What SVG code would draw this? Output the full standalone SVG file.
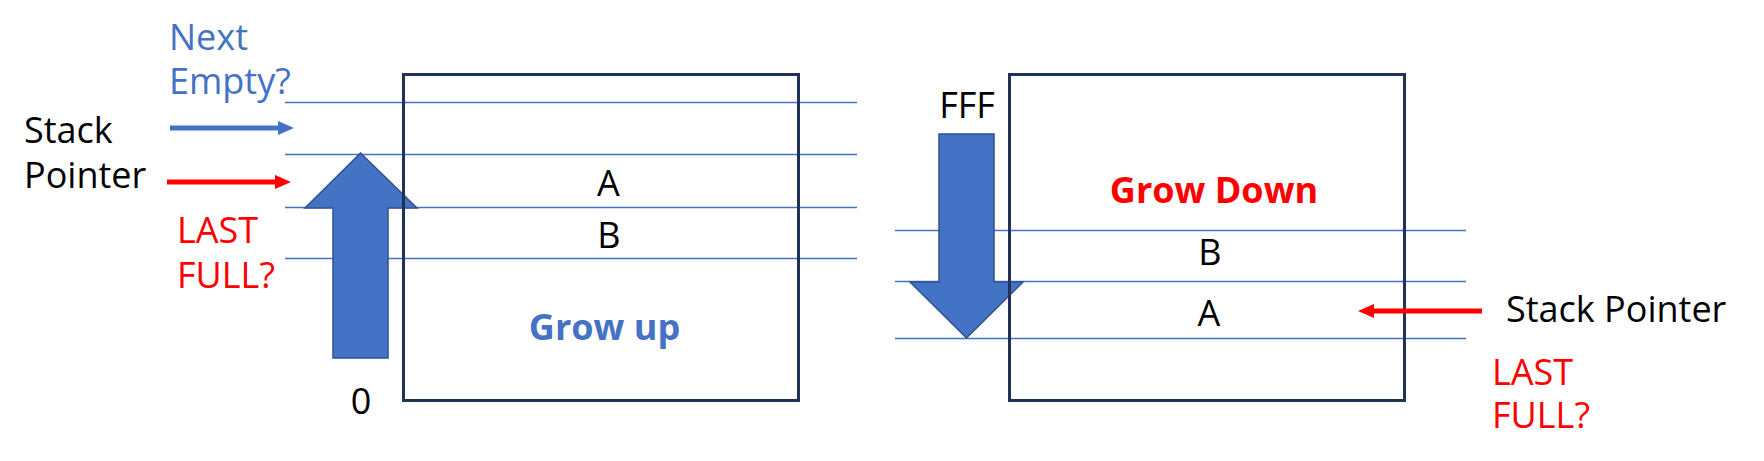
<svg xmlns="http://www.w3.org/2000/svg" width="1764" height="461" viewBox="0 0 1764 461">
  <style>
    text { font-family: "Open Sans", "Noto Sans", "Liberation Sans", sans-serif; font-size: 36px; }
    .blk { fill: #000000; }
    .blue { fill: #4472c4; }
    .red { fill: #ff0000; }
    .bold { font-weight: bold; }
    .mid { text-anchor: middle; }
    .row { stroke: #4472c4; stroke-width: 1.5; fill: none; }
    .box { fill: none; stroke: #1f3356; stroke-width: 3; }
    .big { fill: #4472c4; stroke: #2f528f; stroke-width: 1.5; stroke-linejoin: miter; }
    .ptr { stroke-width: 5; fill: none; }
  </style>
  <defs>
    <marker id="headBlue" markerUnits="userSpaceOnUse" markerWidth="16" markerHeight="14" viewBox="0 0 16 14" refX="1" refY="7" orient="auto">
      <path d="M0,0 L16,7 L0,14 z" fill="#4472c4"/>
    </marker>
    <marker id="headRed" markerUnits="userSpaceOnUse" markerWidth="16" markerHeight="14" viewBox="0 0 16 14" refX="1" refY="7" orient="auto">
      <path d="M0,0 L16,7 L0,14 z" fill="#ff0000"/>
    </marker>
  </defs>
  <rect width="1764" height="461" fill="#ffffff"/>

  <!-- row separator lines -->
  <g id="rows-left">
    <line class="row" x1="285" y1="102.5" x2="857" y2="102.5"/>
    <line class="row" x1="285" y1="154.5" x2="857" y2="154.5"/>
    <line class="row" x1="285" y1="207.5" x2="857" y2="207.5"/>
    <line class="row" x1="285" y1="258.5" x2="857" y2="258.5"/>
  </g>
  <g id="rows-right">
    <line class="row" x1="895" y1="230.5" x2="1466" y2="230.5"/>
    <line class="row" x1="895" y1="281.5" x2="1466" y2="281.5"/>
    <line class="row" x1="895" y1="338.5" x2="1466" y2="338.5"/>
  </g>

  <!-- big growth arrows -->
  <g id="arrow-grow-up">
    <polygon class="big" points="333,358 333,208 305,208 360.5,153 417,208 388,208 388,358"/>
    <text class="blk mid" x="361" y="414">0</text>
  </g>
  <g id="arrow-grow-down">
    <polygon class="big" points="939,134 994,134 994,282 1023,282 966.5,338 910,282 939,282"/>
    <text class="blk mid" x="967" y="118">FFF</text>
  </g>

  <!-- stack boxes -->
  <g id="stack-up">
    <rect class="box" x="403.5" y="74.5" width="395" height="326"/>
    <text class="blk mid" x="608.5" y="196">A</text>
    <text class="blk mid" x="609" y="248">B</text>
    <text class="blue bold mid" x="604.5" y="340">Grow up</text>
  </g>
  <g id="stack-down">
    <rect class="box" x="1009.5" y="74.5" width="395" height="326"/>
    <text class="red bold mid" x="1214" y="203">Grow Down</text>
    <text class="blk mid" x="1210" y="265">B</text>
    <text class="blk mid" x="1209" y="326">A</text>
  </g>

  <!-- labels -->
  <g id="label-next-empty">
    <text class="blue" x="169" y="50">Next</text>
    <text class="blue" x="169" y="94">Empty?</text>
  </g>
  <g id="label-stack-pointer-left">
    <text class="blk" x="24" y="143">Stack</text>
    <text class="blk" x="24" y="188">Pointer</text>
  </g>
  <g id="label-last-full-left">
    <text class="red" x="177" y="243">LAST</text>
    <text class="red" x="177" y="288">FULL?</text>
  </g>
  <g id="label-stack-pointer-right">
    <text class="blk" x="1506" y="322">Stack Pointer</text>
  </g>
  <g id="label-last-full-right">
    <text class="red" x="1492" y="385">LAST</text>
    <text class="red" x="1492" y="428">FULL?</text>
  </g>

  <!-- connectors -->
  <g id="connectors">
    <line class="ptr" stroke="#4472c4" x1="170" y1="128" x2="279" y2="128" marker-end="url(#headBlue)"/>
    <line class="ptr" stroke="#ff0000" x1="167" y1="182" x2="276" y2="182" marker-end="url(#headRed)"/>
    <line class="ptr" stroke="#ff0000" x1="1482" y1="311" x2="1373" y2="311" marker-end="url(#headRed)"/>
  </g>
</svg>
